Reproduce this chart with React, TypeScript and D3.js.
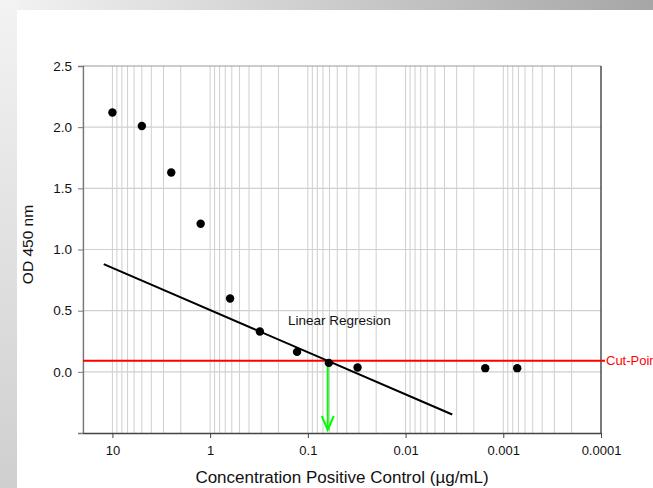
import React, { useEffect, useRef } from 'react';
import * as d3 from 'd3';

// dilution series (µg/mL) and OD readings
const concentrations = [10, 5, 2.5, 1.25, 0.625, 0.31, 0.129, 0.061, 0.031, 0.00153, 0.00072];
const odValues = [2.12, 2.01, 1.63, 1.21, 0.6, 0.33, 0.163, 0.073, 0.035, 0.03, 0.03];

// linear regression drawn between these two ends
const regressionX = [12.27, 0.00333];
const regressionY = [0.88, -0.349];

const cutPoint = 0.09;

const xTicks = [10, 1, 0.1, 0.01, 0.001, 0.0001];
const xTickLabels = ['10', '1', '0.1', '0.01', '0.001', '0.0001'];
const yTicks = [0, 0.5, 1, 1.5, 2, 2.5];

const W = 653;
const H = 488;
const margin = { left: 83, right: 52, top: 66, bottom: 55 };
const font = 'Liberation Sans, Arial, sans-serif';

export default function App() {
  const svgRef = useRef<SVGSVGElement>(null);

  useEffect(() => {
    const svg = d3.select(svgRef.current);
    svg.selectAll('*').remove();

    const x = d3
      .scaleLog()
      .domain([20, 0.0001])
      .range([margin.left, W - margin.right]);
    const y = d3
      .scaleLinear()
      .domain([-0.5, 2.5])
      .range([H - margin.bottom, margin.top]);

    const defs = svg.append('defs');
    const topGrad = defs.append('linearGradient').attr('id', 'topGrad');
    topGrad.append('stop').attr('offset', '0%').attr('stop-color', '#f3f3f3');
    topGrad.append('stop').attr('offset', '100%').attr('stop-color', '#a6a6a6');
    const leftGrad = defs
      .append('linearGradient')
      .attr('id', 'leftGrad')
      .attr('x1', 0)
      .attr('y1', 0)
      .attr('x2', 0)
      .attr('y2', 1);
    leftGrad.append('stop').attr('offset', '0%').attr('stop-color', '#f3f3f3');
    leftGrad.append('stop').attr('offset', '100%').attr('stop-color', '#cfcfcf');

    svg.append('rect').attr('width', W).attr('height', H).attr('fill', '#fff');
    svg.append('rect').attr('width', W).attr('height', 10).attr('fill', 'url(#topGrad)');
    svg.append('rect').attr('width', 17).attr('height', H).attr('fill', 'url(#leftGrad)');

    const [x0, x1] = x.range();
    const [yb, yt] = y.range();

    // vertical log grid
    const minor: number[] = [];
    for (let e = -4; e <= 1; e++) {
      for (let m = 1; m <= 9; m++) {
        const v = m * Math.pow(10, e);
        if (v <= 20 && v > 0.0001) minor.push(v);
      }
    }
    svg
      .append('g')
      .selectAll('line')
      .data(minor)
      .enter()
      .append('line')
      .attr('x1', (d) => x(d))
      .attr('x2', (d) => x(d))
      .attr('y1', yt)
      .attr('y2', yb)
      .attr('stroke', '#cfcfcf')
      .attr('stroke-width', 1);

    svg
      .append('g')
      .selectAll('line')
      .data(yTicks.filter((d) => d < 2.5))
      .enter()
      .append('line')
      .attr('x1', x0)
      .attr('x2', x1)
      .attr('y1', (d) => y(d))
      .attr('y2', (d) => y(d))
      .attr('stroke', '#d0d0d0')
      .attr('stroke-width', 1.2);

    // frame
    svg.append('line').attr('x1', x0).attr('x2', x1).attr('y1', yt).attr('y2', yt).attr('stroke', '#999').attr('stroke-width', 1.2);
    svg.append('line').attr('x1', x1).attr('x2', x1).attr('y1', yt).attr('y2', yb).attr('stroke', '#222').attr('stroke-width', 1.2);

    const yAxis = svg
      .append('g')
      .attr('transform', `translate(${x0},0)`)
      .call(d3.axisLeft(y).tickValues(yTicks).tickFormat(d3.format('.1f')).tickSize(5).tickPadding(6));
    yAxis.select('.domain').attr('stroke', '#777').attr('stroke-width', 1.3);
    yAxis.selectAll('.tick line').attr('stroke', '#777');
    yAxis.selectAll('text').attr('font-family', font).attr('font-size', 13.5).attr('fill', '#111');

    const xAxis = svg
      .append('g')
      .attr('transform', `translate(0,${yb})`)
      .call(
        d3
          .axisBottom(x)
          .tickValues(xTicks)
          .tickFormat((d, i) => xTickLabels[i])
          .tickSize(5)
          .tickSizeOuter(0)
          .tickPadding(8)
      );
    xAxis.select('.domain').attr('stroke', '#444').attr('stroke-width', 1.3);
    xAxis.selectAll('.tick line').attr('stroke', '#444');
    xAxis.selectAll('text').attr('font-family', font).attr('font-size', 13).attr('fill', '#111');

    // cut-point
    svg
      .append('line')
      .attr('x1', x0)
      .attr('x2', x1 + 4)
      .attr('y1', y(cutPoint))
      .attr('y2', y(cutPoint))
      .attr('stroke', '#ff0000')
      .attr('stroke-width', 2);
    svg
      .append('text')
      .attr('x', x1 + 5)
      .attr('y', y(cutPoint) + 4.5)
      .attr('font-family', font)
      .attr('font-size', 13)
      .attr('fill', '#ff0000')
      .text('Cut-Point');

    // regression line
    const line = d3
      .line<number>()
      .x((d, i) => x(regressionX[i]))
      .y((d) => y(d));
    svg
      .append('path')
      .datum(regressionY)
      .attr('d', line)
      .attr('fill', 'none')
      .attr('stroke', '#000')
      .attr('stroke-width', 2);

    svg
      .append('text')
      .attr('x', 288)
      .attr('y', y(0.38))
      .attr('font-family', font)
      .attr('font-size', 13.5)
      .attr('fill', '#111')
      .text('Linear Regresion');

    // intersection of regression with cut-point
    const lx0 = Math.log10(regressionX[0]);
    const lx1 = Math.log10(regressionX[1]);
    const t = (regressionY[0] - cutPoint) / (regressionY[0] - regressionY[1]);
    const cutX = x(Math.pow(10, lx0 + t * (lx1 - lx0)));
    const arrowEnd = yb - 3;
    svg
      .append('line')
      .attr('x1', cutX)
      .attr('x2', cutX)
      .attr('y1', y(cutPoint))
      .attr('y2', arrowEnd)
      .attr('stroke', '#00ff00')
      .attr('stroke-width', 2);
    svg
      .append('path')
      .attr('d', `M${cutX - 6},${arrowEnd - 14}L${cutX},${arrowEnd}L${cutX + 6},${arrowEnd - 14}`)
      .attr('fill', 'none')
      .attr('stroke', '#00ff00')
      .attr('stroke-width', 2);

    // points
    svg
      .append('g')
      .selectAll('circle')
      .data(concentrations)
      .enter()
      .append('circle')
      .attr('cx', (d) => x(d))
      .attr('cy', (d, i) => y(odValues[i]))
      .attr('r', 4.2)
      .attr('fill', '#000');

    // axis titles
    svg
      .append('text')
      .attr('transform', `translate(33,${(yt + yb) / 2 - 5}) rotate(-90)`)
      .attr('text-anchor', 'middle')
      .attr('font-family', font)
      .attr('font-size', 15.5)
      .attr('fill', '#111')
      .text('OD 450 nm');
    svg
      .append('text')
      .attr('x', (x0 + x1) / 2)
      .attr('y', 483)
      .attr('text-anchor', 'middle')
      .attr('font-family', font)
      .attr('font-size', 17)
      .attr('fill', '#111')
      .text('Concentration Positive Control (µg/mL)');
  }, []);

  return (
    <svg
      ref={svgRef}
      width={W}
      height={H}
      style={{ position: 'absolute', left: 0, top: 0, display: 'block' }}
    />
  );
}
